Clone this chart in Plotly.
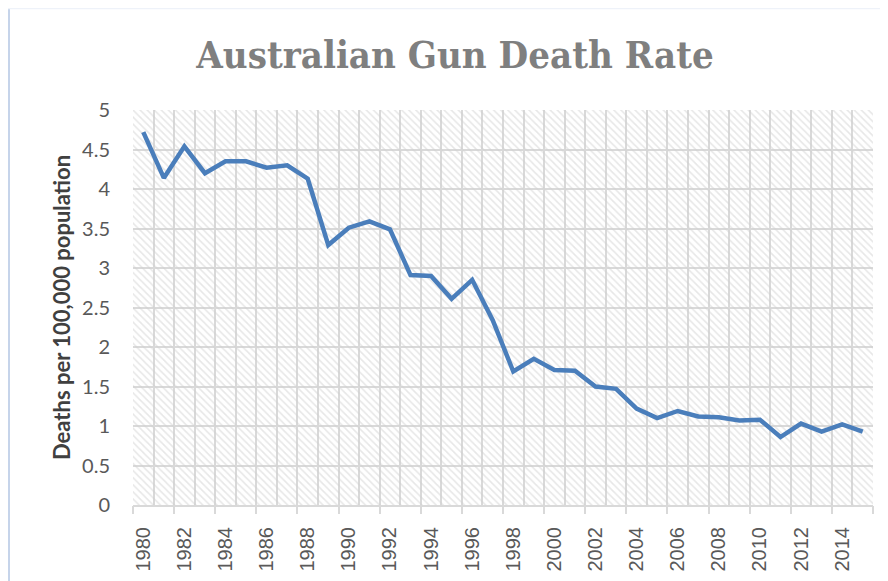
import plotly.graph_objects as go

years = list(range(1980, 2016))
rates = [4.72, 4.14, 4.54, 4.20, 4.35, 4.35, 4.27, 4.30, 4.13, 3.29,
         3.51, 3.59, 3.49, 2.91, 2.90, 2.61, 2.85, 2.34, 1.69, 1.85,
         1.71, 1.70, 1.50, 1.47, 1.22, 1.10, 1.19, 1.12, 1.11, 1.07,
         1.08, 0.86, 1.03, 0.93, 1.02, 0.93]
label_years = list(range(1980, 2016, 2))
title_text = "Australian Gun Death Rate"
y_title = "Deaths per 100,000 population"

y_max = 5
x_lo, x_hi = years[0] - 0.5, years[-1] + 0.5
grid = "#d9d9d9"
txt = "#595959"

# page has an 8px body margin, so the figure is drawn 8px in from the corner
W, H = 880, 573
L, R, T, B = 125, 15, 102, 76
pw, ph = W - L - R, H - T - B


def px_x(p):
    return (p - L) / pw


def px_y(p):
    return (H - B - p) / ph


fig = go.Figure()
# hatched plot-area background
fig.add_trace(go.Bar(
    x=years, y=[y_max] * len(years), width=1, xaxis="x", yaxis="y",
    marker=dict(color="rgba(0,0,0,0)", line=dict(width=0),
                pattern=dict(shape="\\", fgcolor="#cfcfcf", size=5,
                             solidity=0.32, fillmode="overlay")),
    hoverinfo="skip", showlegend=False))
fig.add_trace(go.Scatter(
    x=years, y=rates, mode="lines", xaxis="x2", yaxis="y",
    line=dict(color="#4a7ebb", width=4.5), showlegend=False))

fig.update_layout(
    width=W, height=H,
    margin=dict(l=L, r=R, t=T, b=B, autoexpand=False),
    paper_bgcolor="white", plot_bgcolor="white",
    bargap=0,
    title=dict(text=title_text, x=(455 - 8) / W, xanchor="center",
               y=1 - (55 - 8) / H, yanchor="middle", automargin=False,
               font=dict(family="DejaVu Serif Condensed", size=38, color="#7f7f7f",
                         weight="bold")),
    xaxis=dict(range=[x_lo, x_hi], tickmode="array", tickvals=label_years,
               ticktext=[str(y) for y in label_years], tickangle=-90,
               tickfont=dict(family="Liberation Sans", size=20, color=txt),
               showgrid=False, ticks="", ticklabelstandoff=12, automargin=False,
               showline=True, linecolor=grid, linewidth=2,
               minor=dict(tick0=x_lo, dtick=1, showgrid=True, gridcolor=grid,
                          gridwidth=2, ticks=""),
               zeroline=False, fixedrange=True),
    xaxis2=dict(range=[x_lo, x_hi], overlaying="x", anchor="y", side="bottom",
                tickmode="array", tickvals=[x_lo + 2 * k for k in range(19)],
                showticklabels=False, ticks="outside", ticklen=8, tickwidth=2,
                tickcolor=grid, showgrid=False, zeroline=False, showline=False,
                automargin=False),
    yaxis=dict(range=[0, y_max], dtick=0.5, showgrid=True, gridcolor=grid,
               gridwidth=2, zeroline=False, showline=False, ticks="",
               ticklabelstandoff=22, automargin=False,
               tickfont=dict(family="Lato", size=20, color=txt),
               title=dict(text=y_title, standoff=5,
                          font=dict(family="Lato", size=22, color="#404040",
                                    weight="bold"))),
    shapes=[
        dict(type="line", xref="paper", yref="paper",
             x0=px_x(1), x1=px_x(1), y0=px_y(H + 2), y1=px_y(0),
             line=dict(color="#c6d4ea", width=2)),
        dict(type="line", xref="paper", yref="paper",
             x0=px_x(0), x1=px_x(W + 2), y0=px_y(0.5), y1=px_y(0.5),
             line=dict(color="#eef2f9", width=1.5)),
    ],
)

fig.write_html("out.html")
